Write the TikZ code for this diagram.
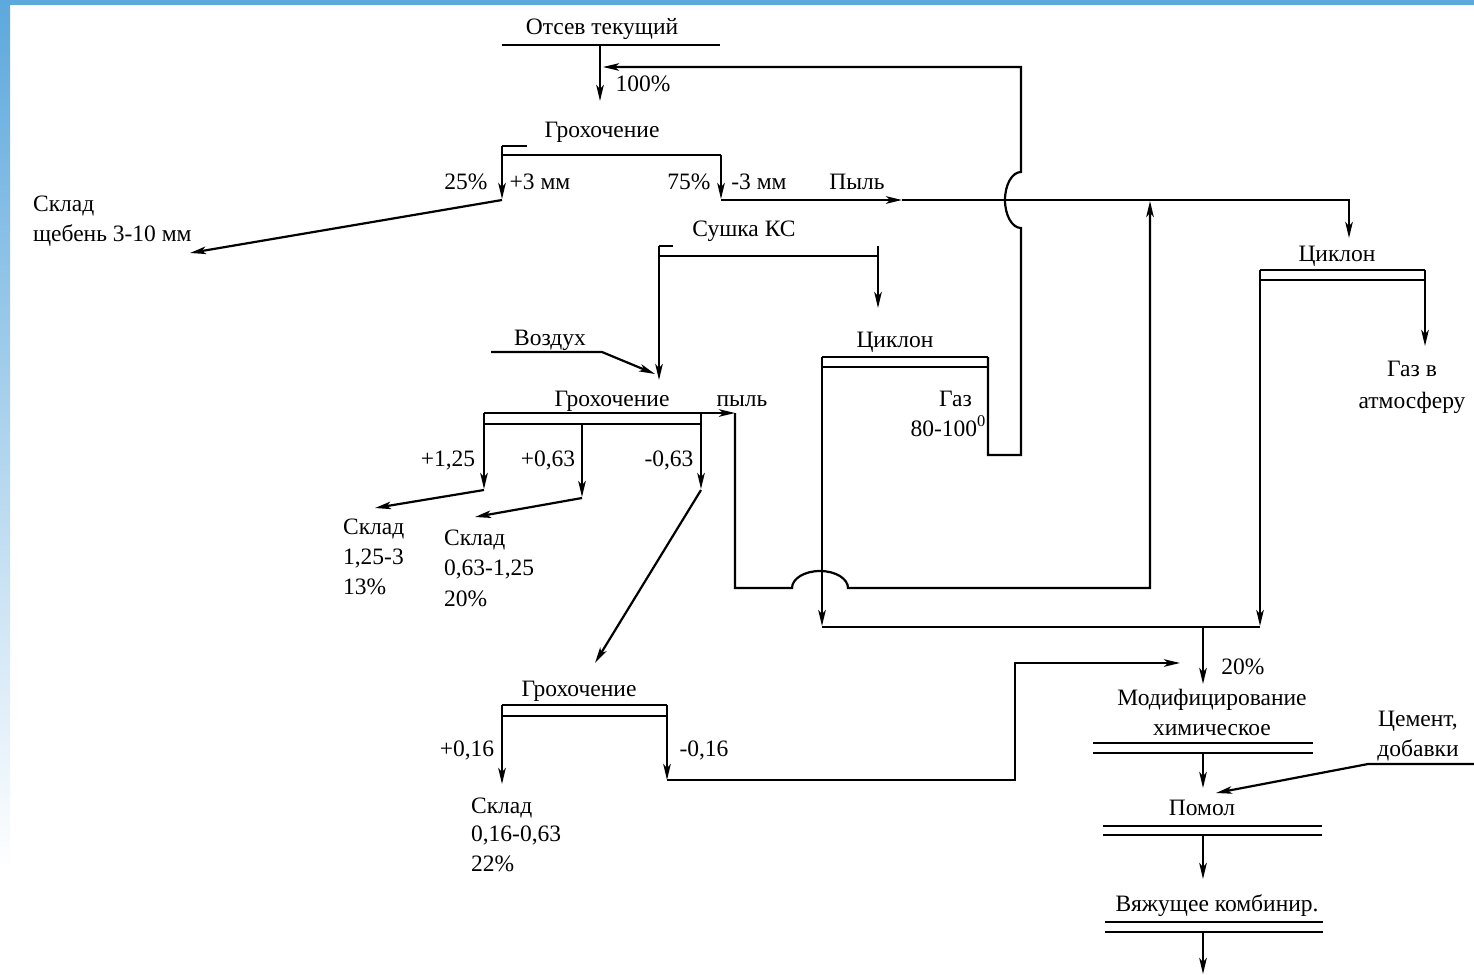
\documentclass[tikz,border=0pt]{standalone}
\usepackage{fontspec}
\setmainfont{Liberation Serif}
\usetikzlibrary{arrows.meta}
\definecolor{edgeblue}{RGB}{93,168,221}
\begin{document}
\begin{tikzpicture}[x=1pt,y=-1pt,line width=2.2pt,
  >={Stealth[length=16pt,width=7.5pt,inset=4pt]},
  lbl/.style={font=\fontsize{23.5}{28}\selectfont,inner sep=0pt,anchor=base},
  lblw/.style={lbl,anchor=base west},
  lble/.style={lbl,anchor=base east}]
\useasboundingbox (0,0) rectangle (1474,974);
% background edges
\fill[white] (0,0) rectangle (1474,974);
\shade[top color=edgeblue,bottom color=white] (0,0) rectangle (10,870);
\fill[edgeblue] (0,0) rectangle (1474,5);

% ---------- coordinates ----------
\coordinate (otL) at (502,45); \coordinate (otR) at (720,45);
\coordinate (otM) at (600,45); \coordinate (g1in) at (600,101);
\coordinate (g1tick) at (527,146); \coordinate (g1TL) at (502,146);
\coordinate (g1L) at (502,155); \coordinate (g1R) at (721,155);
\coordinate (g1Ld) at (502,199); \coordinate (g1Rd) at (721,199);
\coordinate (g1Lc) at (502,200); \coordinate (g1Rc) at (721,200);
\coordinate (sk1) at (190,253);
\coordinate (dustA) at (902,200); \coordinate (dustB) at (1349,200);
\coordinate (cyc2in) at (1349,238);
\coordinate (ret1) at (1021,67); \coordinate (ret0) at (603,67);
\coordinate (c1TL) at (822,357); \coordinate (c1TR) at (988,357);
\coordinate (c1BL) at (822,367); \coordinate (c1BR) at (988,367);
\coordinate (c1Rd) at (988,455); \coordinate (retB) at (1021,455);
\coordinate (retJ) at (1021,228);
\coordinate (s1Tick) at (673,246); \coordinate (s1TL) at (659,246);
\coordinate (s1L) at (659,256); \coordinate (s1R) at (878,256);
\coordinate (s1Rt) at (878,246);
\coordinate (s1Ld) at (659,380); \coordinate (s1Rd) at (878,308);
\coordinate (air0) at (491,352); \coordinate (air1) at (602,352);
\coordinate (air2) at (655,374);
\coordinate (g2TL) at (484,413); \coordinate (g2TR) at (735,413);
\coordinate (g2BL) at (484,424); \coordinate (g2BR) at (701,424);
\coordinate (g2M) at (582,424); \coordinate (g2Rt) at (701,413);
\coordinate (g2Ld) at (484,489); \coordinate (g2Md) at (582,497);
\coordinate (g2Rd) at (701,489);
\coordinate (g2Lc) at (484,490); \coordinate (g2Mc) at (582,498);
\coordinate (g2Rc) at (701,490);
\coordinate (sk2) at (375,508); \coordinate (sk3) at (475,517);
\coordinate (g3in) at (595,663);
\coordinate (dust2) at (735,413); \coordinate (dust2d) at (735,588);
\coordinate (bumpL) at (792,588);
\coordinate (up0) at (1150,588); \coordinate (up1) at (1150,201);
\coordinate (c1Ld) at (822,626);
\coordinate (c2TL) at (1260,270); \coordinate (c2TR) at (1425,270);
\coordinate (c2BL) at (1260,280); \coordinate (c2BR) at (1425,280);
\coordinate (c2Rd) at (1425,346); \coordinate (c2Ld) at (1260,626);
\coordinate (col0) at (822,627); \coordinate (col1) at (1260,627);
\coordinate (colM) at (1203,627); \coordinate (modin) at (1203,684);
\coordinate (g3TL) at (502,705); \coordinate (g3TR) at (667,705);
\coordinate (g3BL) at (502,716); \coordinate (g3BR) at (667,716);
\coordinate (g3Ld) at (502,784); \coordinate (g3Rd) at (667,780);
\coordinate (r0) at (667,780); \coordinate (r1) at (1015,780);
\coordinate (r2) at (1015,663); \coordinate (r3) at (1180,663);
\coordinate (m1L) at (1093,743); \coordinate (m1R) at (1313,743);
\coordinate (m2L) at (1093,753); \coordinate (m2R) at (1313,753);
\coordinate (mA) at (1203,753); \coordinate (pin) at (1203,788);
\coordinate (cem0) at (1474,764); \coordinate (cem1) at (1368,764);
\coordinate (cem2) at (1216,793);
\coordinate (p1L) at (1103,826); \coordinate (p1R) at (1322,826);
\coordinate (p2L) at (1103,835); \coordinate (p2R) at (1322,835);
\coordinate (pA) at (1203,835); \coordinate (vin) at (1203,879);
\coordinate (v1L) at (1105,922); \coordinate (v1R) at (1323,922);
\coordinate (v2L) at (1105,932); \coordinate (v2R) at (1323,932);
\coordinate (vA) at (1203,932); \coordinate (vout) at (1203,974);

% ---------- lines ----------
\draw (otL) -- (otR);
\draw[->] (otM) -- (g1in);
% screening 1
\draw (g1TL) -- (g1tick);
\draw (g1L) -- (g1R);
\draw[->] (g1TL) -- (g1Ld);
\draw[->] (g1Lc) -- (sk1);
\draw[->] (g1R) -- (g1Rd);
\draw[->] (g1Rc) -- (dustA);
\draw[->] (dustA) -- (dustB) -- (cyc2in);
% return loop from cyclone 1 with jump
\draw[->] (c1TR) -- (c1Rd) -- (retB) -- (retJ)
  arc[start angle=270,end angle=90,x radius=16pt,y radius=28pt]
  -- (ret1) -- (ret0);
% drying KS
\draw (s1TL) -- (s1Tick);
\draw (s1L) -- (s1R);
\draw[->] (s1TL) -- (s1Ld);
\draw[->] (s1Rt) -- (s1Rd);
% air
\draw[->] (air0) -- (air1) -- (air2);
% screening 2
\draw[->] (g2TL) -- (g2TR);
\draw (g2BL) -- (g2BR);
\draw[->] (g2TL) -- (g2Ld);
\draw[->] (g2M) -- (g2Md);
\draw[->] (g2Rt) -- (g2Rd);
\draw[->] (g2Lc) -- (sk2);
\draw[->] (g2Mc) -- (sk3);
\draw[->] (g2Rc) -- (g3in);
% dust line with jump
\draw[->] (dust2) -- (dust2d) -- (bumpL)
  arc[start angle=180,end angle=0,x radius=28pt,y radius=17pt]
  -- (up0) -- (up1);
% cyclone 1
\draw (c1TL) -- (c1TR);
\draw (c1BL) -- (c1BR);
\draw[->] (c1TL) -- (c1Ld);
% cyclone 2
\draw (c2TL) -- (c2TR);
\draw (c2BL) -- (c2BR);
\draw[->] (c2TR) -- (c2Rd);
\draw[->] (c2TL) -- (c2Ld);
% collector
\draw (col0) -- (col1);
\draw[->] (colM) -- (modin);
% screening 3
\draw (g3TL) -- (g3TR);
\draw (g3BL) -- (g3BR);
\draw[->] (g3TL) -- (g3Ld);
\draw[->] (g3TR) -- (g3Rd);
\draw[->] (r0) -- (r1) -- (r2) -- (r3);
% modification, grinding, binder
\draw (m1L) -- (m1R); \draw (m2L) -- (m2R);
\draw[->] (mA) -- (pin);
\draw[->] (cem0) -- (cem1) -- (cem2);
\draw (p1L) -- (p1R); \draw (p2L) -- (p2R);
\draw[->] (pA) -- (vin);
\draw (v1L) -- (v1R); \draw (v2L) -- (v2R);
\draw[->] (vA) -- (vout);

% ---------- labels ----------
\node[lbl] (tOts) at (602,35) {Отсев текущий};
\node[lbl] (t100) at (643,92) {100\%};
\node[lbl] (tG1) at (602,137) {Грохочение};
\node[lbl] (t25) at (466,189) {25\%};
\node[lbl] (tp3) at (540,189) {+3 мм};
\node[lbl] (t75) at (689,189) {75\%};
\node[lbl] (tm3) at (759,189) {-3 мм};
\node[lbl] (tDust) at (857,189) {Пыль};
\node[lblw] (tSk1a) at (32,211) {Склад};
\node[lblw] (tSk1b) at (32,241) {щебень 3-10 мм};
\node[lbl] (tSush) at (744,236) {Сушка КС};
\node[lbl] (tAir) at (550,345) {Воздух};
\node[lbl] (tG2) at (612,406) {Грохочение};
\node[lbl] (tDust2) at (742,406) {пыль};
\node[lbl] (tC1) at (895,347) {Циклон};
\node[lble] (tGas1) at (973,406) {Газ};
\node[lble] (tGas2) at (987,436) {80-100\textsuperscript{0}};
\node[lbl] (tC2) at (1337,261) {Циклон};
\node[lbl] (tGa) at (1412,376) {Газ в};
\node[lbl] (tGb) at (1412,408) {атмосферу};
\node[lbl] (t125) at (448,466) {+1,25};
\node[lbl] (t063) at (548,466) {+0,63};
\node[lbl] (tm063) at (669,466) {-0,63};
\node[lblw] (tSk2a) at (342,534) {Склад};
\node[lblw] (tSk2b) at (342,564) {1,25-3};
\node[lblw] (tSk2c) at (342,594) {13\%};
\node[lblw] (tSk3a) at (443,545) {Склад};
\node[lblw] (tSk3b) at (443,575) {0,63-1,25};
\node[lblw] (tSk3c) at (443,606) {20\%};
\node[lbl] (tG3) at (579,696) {Грохочение};
\node[lbl] (t016) at (467,756) {+0,16};
\node[lbl] (tm016) at (704,756) {-0,16};
\node[lblw] (tSk4a) at (470,813) {Склад};
\node[lblw] (tSk4b) at (470,841) {0,16-0,63};
\node[lblw] (tSk4c) at (470,871) {22\%};
\node[lbl] (t20) at (1243,674) {20\%};
\node[lbl] (tMod1) at (1212,705) {Модифицирование};
\node[lbl] (tMod2) at (1212,735) {химическое};
\node[lbl] (tCem1) at (1418,726) {Цемент,};
\node[lbl] (tCem2) at (1418,756) {добавки};
\node[lbl] (tPom) at (1202,815) {Помол};
\node[lbl] (tVyazh) at (1217,911) {Вяжущее комбинир.};
\end{tikzpicture}
\end{document}
